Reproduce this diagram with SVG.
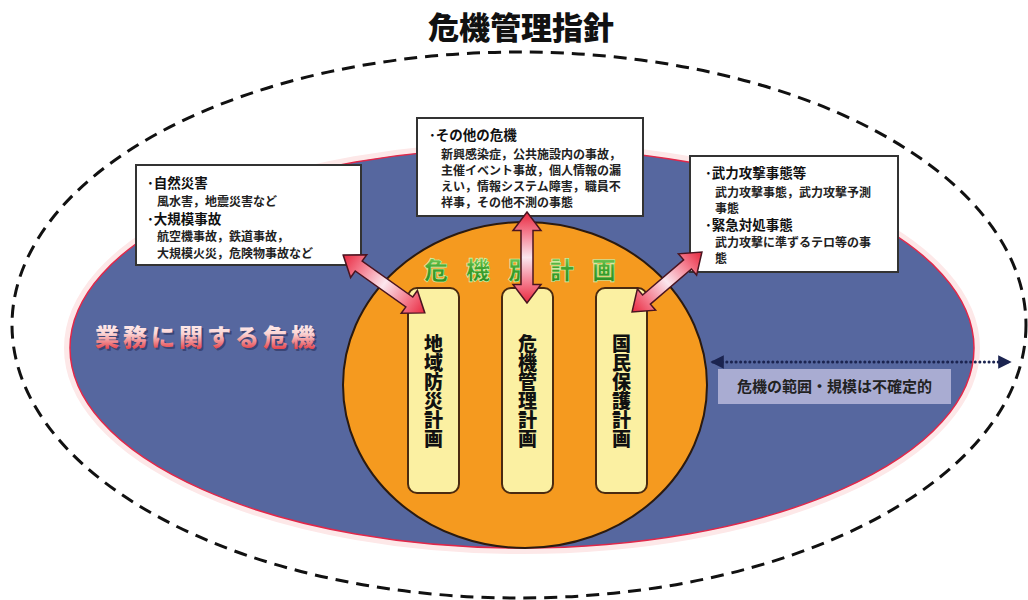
<svg xmlns="http://www.w3.org/2000/svg" width="1028" height="600" viewBox="0 0 1028 600">
  <defs>
    <linearGradient id="arrowGrad" x1="0" y1="0" x2="1" y2="0">
      <stop offset="0" stop-color="#e8283f"/>
      <stop offset="0.22" stop-color="#f47a8c"/>
      <stop offset="0.5" stop-color="#fbe6ee"/>
      <stop offset="0.78" stop-color="#f47a8c"/>
      <stop offset="1" stop-color="#e8283f"/>
    </linearGradient>
    <linearGradient id="redText" x1="0" y1="0" x2="0" y2="1">
      <stop offset="0" stop-color="#ffffff"/>
      <stop offset="0.45" stop-color="#fbd4d4"/>
      <stop offset="1" stop-color="#e0202a"/>
    </linearGradient>
    <linearGradient id="greenText" x1="0" y1="0" x2="0" y2="1">
      <stop offset="0" stop-color="#9be070"/>
      <stop offset="0.5" stop-color="#3fa22e"/>
      <stop offset="1" stop-color="#2a8a22"/>
    </linearGradient>
    <marker id="dotHead" viewBox="0 0 10 10" refX="8" refY="5" markerWidth="4.5" markerHeight="4.5" orient="auto-start-reverse">
      <path d="M0,0 L10,5 L0,10 Z" fill="#1b2450"/>
    </marker>
    <style>
      .cjk { font-family: "Noto Sans CJK JP", "Noto Sans CJK SC", sans-serif; }
      .box { fill: #ffffff; stroke: #333333; stroke-width: 2; }
      .head { font-size: 13.5px; font-weight: 700; fill: #111111; }
      .sub { font-size: 12px; font-weight: 700; fill: #222222; }
      .plan { fill: #fbf0a2; stroke: #4a2a10; stroke-width: 2; }
      .vtext { font-size: 19px; font-weight: 900; fill: #111111; writing-mode: vertical-rl; text-orientation: upright; }
      .dblarrow { fill: url(#arrowGrad); stroke: #4a1420; stroke-width: 1.5; stroke-linejoin: miter; }
    </style>
  </defs>

  <rect width="1028" height="600" fill="#ffffff"/>

  <!-- Title -->
  <g id="title">
    <text class="cjk" x="521" y="39" text-anchor="middle" font-size="31" font-weight="900" fill="#111111">危機管理指針</text>
  </g>

  <!-- Outer dashed ellipse -->
  <g id="outer-scope">
    <ellipse cx="519" cy="325" rx="507" ry="273" fill="none" stroke="#111111" stroke-width="3" stroke-dasharray="13 8"/>
  </g>

  <!-- Blue ellipse -->
  <g id="business-risk">
    <ellipse cx="522" cy="348" rx="455" ry="203" fill="none" stroke="#fde8e8" stroke-width="6"/>
    <ellipse cx="522" cy="348" rx="452" ry="200" fill="#56679f" stroke="#e0284a" stroke-width="1.5"/>
    <text class="cjk" x="209" y="348" text-anchor="middle" font-size="24" font-weight="900" letter-spacing="4" fill="#2a2f5a" opacity="0.6">業務に関する危機</text>
    <text class="cjk" x="207" y="346" text-anchor="middle" font-size="24" font-weight="900" letter-spacing="4" fill="url(#redText)">業務に関する危機</text>
  </g>

  <!-- Orange circle -->
  <g id="crisis-plans">
    <ellipse cx="525" cy="385" rx="182" ry="163" fill="#f59a1f" stroke="#2a1a10" stroke-width="2"/>
    <text class="cjk" x="529" y="279" text-anchor="middle" font-size="24" font-weight="900" letter-spacing="18" fill="url(#greenText)" stroke="#d8f5b8" stroke-width="0.6">危機別計画</text>
  </g>

  <g id="plan-local">
    <rect class="plan" x="408" y="288" width="51" height="205" rx="9"/>
    <text class="cjk vtext" x="433.5" y="391" text-anchor="middle">地域防災計画</text>
  </g>
  <g id="plan-crisis">
    <rect class="plan" x="502" y="288" width="51" height="205" rx="9"/>
    <text class="cjk vtext" x="527.5" y="391" text-anchor="middle">危機管理計画</text>
  </g>
  <g id="plan-civil">
    <rect class="plan" x="596" y="288" width="51" height="205" rx="9"/>
    <text class="cjk vtext" x="621.5" y="391" text-anchor="middle">国民保護計画</text>
  </g>

  <!-- Info boxes -->
  <g id="box-disaster">
    <rect class="box" x="136" y="165" width="225" height="100"/>
    <text class="cjk head" x="147" y="188">･自然災害</text>
    <text class="cjk sub" x="157" y="206">風水害，地震災害など</text>
    <text class="cjk head" x="147" y="224">･大規模事故</text>
    <text class="cjk sub" x="157" y="241">航空機事故，鉄道事故，</text>
    <text class="cjk sub" x="157" y="258">大規模火災，危険物事故など</text>
  </g>

  <g id="box-other">
    <rect class="box" x="417" y="118" width="226" height="98"/>
    <text class="cjk head" x="429" y="140">･その他の危機</text>
    <text class="cjk sub" x="441" y="159">新興感染症，公共施設内の事故，</text>
    <text class="cjk sub" x="441" y="175">主催イベント事故，個人情報の漏</text>
    <text class="cjk sub" x="441" y="191">えい，情報システム障害，職員不</text>
    <text class="cjk sub" x="441" y="207">祥事，その他不測の事態</text>
  </g>

  <g id="box-armed">
    <rect class="box" x="690" y="156" width="208" height="116"/>
    <text class="cjk head" x="705" y="178">･武力攻撃事態等</text>
    <text class="cjk sub" x="715" y="197">武力攻撃事態，武力攻撃予測</text>
    <text class="cjk sub" x="715" y="213">事態</text>
    <text class="cjk head" x="705" y="230">･緊急対処事態</text>
    <text class="cjk sub" x="715" y="247">武力攻撃に準ずるテロ等の事</text>
    <text class="cjk sub" x="715" y="263">態</text>
  </g>

  <!-- Uncertainty label -->
  <g id="scope-label">
    <rect x="718" y="369" width="233" height="35" fill="#a9acd2"/>
    <text class="cjk" x="834.5" y="392" text-anchor="middle" font-size="15" font-weight="700" fill="#222222">危機の範囲・規模は不確定的</text>
  </g>

  <!-- Connectors -->
  <g id="connectors">
    <path class="dblarrow" transform="translate(384,284) rotate(35.3)" d="M-50,0 L-31,-14 L-31,-6 L31,-6 L31,-14 L50,0 L31,14 L31,6 L-31,6 L-31,14 Z"/>
    <path class="dblarrow" transform="translate(527,257.5) rotate(90)" d="M-45.5,0 L-27,-14 L-27,-6 L27,-6 L27,-14 L45.5,0 L27,14 L27,6 L-27,6 L-27,14 Z"/>
    <path class="dblarrow" transform="translate(667,282) rotate(139.4)" d="M-46,0 L-27,-14 L-27,-6 L27,-6 L27,-14 L46,0 L27,14 L27,6 L-27,6 L-27,14 Z"/>
    <line x1="713" y1="362" x2="1009" y2="362" stroke="#1b2450" stroke-width="3" stroke-dasharray="0.1 4.5" stroke-linecap="round" marker-start="url(#dotHead)" marker-end="url(#dotHead)"/>
  </g>
</svg>
